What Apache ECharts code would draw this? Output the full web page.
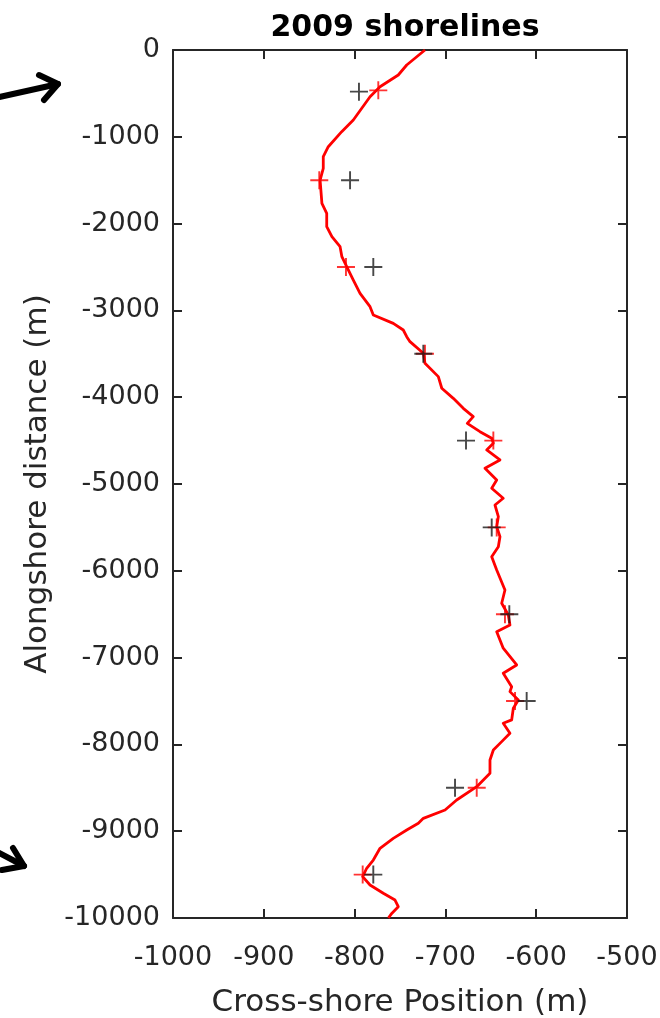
<!DOCTYPE html>
<html>
<head>
<meta charset="utf-8">
<script src="https://cdn.jsdelivr.net/npm/echarts@6/dist/echarts.min.js"></script>
<style>
  html, body { margin: 0; padding: 0; background: #fff; }
  #main { width: 660px; height: 1018px; }
</style>
</head>
<body>
<div id="main"></div>
<script>
// shoreline trace (alongshore y, cross-shore x)
var shoreY = [0, -173, -288, -423, -538, -806, -941, -1114, -1229, -1363, -1498, -1766, -1882, -2035, -2151, -2266, -2381, -2496, -2650, -2803, -2957, -3053, -3149, -3226, -3303, -3360, -3494, -3610, -3763, -3897, -4013, -4128, -4224, -4301, -4397, -4473, -4531, -4608, -4723, -4819, -4954, -5049, -5164, -5242, -5376, -5492, -5607, -5722, -5837, -5990, -6221, -6374, -6509, -6624, -6701, -6892, -7085, -7180, -7335, -7392, -7488, -7584, -7718, -7756, -7871, -7968, -8064, -8179, -8333, -8487, -8641, -8756, -8852, -8909, -8986, -9082, -9197, -9332, -9427, -9524, -9620, -9715, -9793, -9870, -9947, -10000];
var shoreX = [-722.5, -742.6, -751.9, -772, -783, -801.4, -814.2, -829, -834.5, -834.5, -838, -836, -830.7, -830.7, -825, -816, -814, -808.7, -801.4, -794, -783, -779.4, -757.4, -746.4, -742.6, -739, -724.3, -722.5, -707.8, -704, -691.3, -680.3, -669.3, -675.9, -661.9, -649, -647.2, -654.5, -639.9, -656.4, -643.5, -649, -636.3, -645.4, -641.7, -643.5, -639.9, -641.7, -649, -643.5, -634.4, -638, -630.7, -628.9, -643.5, -636.3, -621.5, -636.3, -627, -628.9, -619.7, -625.2, -627, -636.3, -628.9, -638, -647.2, -650.9, -650.9, -665.5, -687.6, -700.4, -724.3, -729.8, -742.6, -757.4, -772, -779.4, -786.7, -791.1, -783, -768.4, -755.5, -751.9, -759.1, -762.8];

// red + markers
var redY = [-465, -1500, -2500, -3500, -4500, -5500, -6500, -7500, -8500, -9500];
var redX = [-773.9, -838.9, -809.5, -722.5, -647.2, -643.5, -634.4, -623.3, -665.5, -791.1];

// black + markers
var blackY = [-480, -1500, -2500, -3500, -4500, -5500, -6500, -7500, -8500, -9500];
var blackX = [-795.2, -805, -779.4, -724.3, -677.3, -649, -629.6, -610.5, -689.4, -779.4];

var xTicks = [-1000, -500, 100];
var yTicks = [-10000, 0, 1000];

function pairs(xs, ys) {
    var out = [];
    for (var i = 0; i < xs.length; i++) {
        out.push([xs[i], ys[i]]);
    }
    return out;
}

var plus = 'path://M-8.5,-0.9 H-0.9 V-8.5 H0.9 V-0.9 H8.5 V0.9 H0.9 V8.5 H-0.9 V0.9 H-8.5 Z';
var axisCol = '#262626';
var font = 'DejaVu Sans';

function axis(extra) {
    var base = {
        type: 'value',
        axisLine: { show: true, onZero: false, lineStyle: { color: axisCol, width: 2 } },
        axisTick: { show: true, inside: true, length: 9, lineStyle: { color: axisCol, width: 2 } },
        splitLine: { show: false }
    };
    return Object.assign(base, extra);
}

var chart = echarts.init(document.getElementById('main'));
var option = {
    animation: false,
    title: {
        text: '2009 shorelines',
        left: 400,
        top: 8,
        textAlign: 'center',
        textStyle: { fontFamily: font, fontWeight: 'bold', fontSize: 30, color: '#000' }
    },
    grid: { left: 173, right: 33, top: 50, bottom: 100, containLabel: false, outerBoundsMode: 'none' },
    xAxis: [
        axis({
            position: 'bottom',
            min: xTicks[0], max: xTicks[1], interval: xTicks[2],
            name: 'Cross-shore Position (m)',
            nameLocation: 'middle',
            nameGap: 69,
            nameTextStyle: { fontFamily: font, fontSize: 31, color: axisCol },
            axisLabel: { margin: 26, fontFamily: font, fontSize: 27, color: axisCol,
                formatter: function (v) { return String(v); } }
        }),
        axis({
            position: 'top',
            min: xTicks[0], max: xTicks[1], interval: xTicks[2],
            axisLabel: { show: false }
        })
    ],
    yAxis: [
        axis({
            position: 'left',
            min: yTicks[0], max: yTicks[1], interval: yTicks[2],
            name: 'Alongshore distance (m)',
            nameLocation: 'middle',
            nameGap: 119,
            nameTextStyle: { fontFamily: font, fontSize: 31, color: axisCol },
            axisLabel: { margin: 13, fontFamily: font, fontSize: 27, color: axisCol,
                formatter: function (v) { return String(v); } }
        }),
        axis({
            position: 'right',
            min: yTicks[0], max: yTicks[1], interval: yTicks[2],
            axisLabel: { show: false }
        })
    ],
    series: [
        {
            type: 'line',
            data: pairs(shoreX, shoreY),
            showSymbol: false,
            lineStyle: { color: '#ff0000', width: 2.8, join: 'round' },
            z: 2
        },
        {
            type: 'scatter',
            data: pairs(redX, redY),
            symbol: plus,
            symbolSize: 18,
            itemStyle: { color: '#ff0000' },
            z: 3
        },
        {
            type: 'scatter',
            data: pairs(blackX, blackY),
            symbol: plus,
            symbolSize: 18,
            itemStyle: { color: '#1a1a1a' },
            z: 4
        }
    ],
    graphic: [
        // arrows from the neighbouring panel
        {
            type: 'polyline',
            shape: { points: [[-5, 98], [58, 84]] },
            style: { stroke: '#000', lineWidth: 6, lineCap: 'round' }
        },
        {
            type: 'polyline',
            shape: { points: [[39, 75], [58, 84], [44, 100]] },
            style: { stroke: '#000', fill: null, lineWidth: 6, lineCap: 'round', lineJoin: 'round' }
        },
        {
            type: 'polyline',
            shape: { points: [[-10, 848], [24, 866]] },
            style: { stroke: '#000', lineWidth: 6, lineCap: 'round' }
        },
        {
            type: 'polyline',
            shape: { points: [[13, 848], [24, 866], [2, 870]] },
            style: { stroke: '#000', fill: null, lineWidth: 6, lineCap: 'round', lineJoin: 'round' }
        }
    ]
};
chart.setOption(option);
</script>
</body>
</html>
